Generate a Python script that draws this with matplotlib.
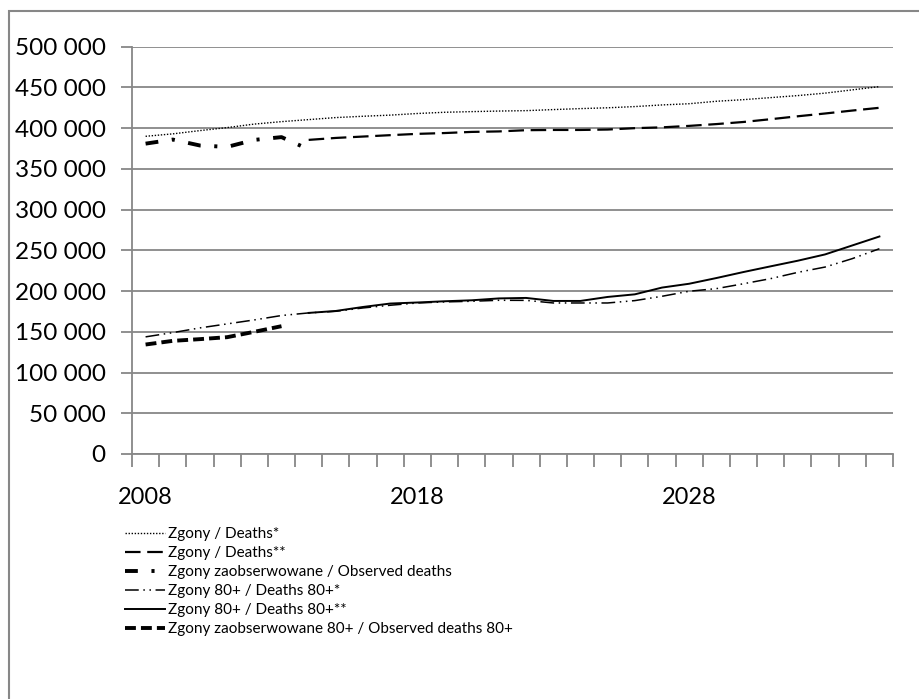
import matplotlib
matplotlib.use('Agg')  # no display
from matplotlib import pyplot as plt
from matplotlib.patches import Rectangle
from matplotlib.ticker import FuncFormatter, FixedLocator
from matplotlib.font_manager import FontProperties
import numpy as np

# Years on the category axis
years = list(range(2008, 2036))
year_labels = ['2008', '2018', '2028']

# Values in thousands (nan = no data)
nan = np.nan
deaths_a = [390, 393, 397, 400.7, 405, 408, 410.5, 413, 414.6, 416, 418, 419.5, 420.3, 421,
            421.5, 422.8, 424, 425, 426.5, 428.5, 430, 433, 435, 437.5, 440, 443, 447, 451]
deaths_b = [nan] * 6 + [385.6, 388, 389.7, 391.4, 393, 394, 395.4, 396, 397.5, 397.8, 397.8,
                        398.3, 400, 401, 402.8, 405, 407.6, 411, 414.6, 418, 421.6, 425]
deaths_obs = [381, 386, 378.7, 377, 385.6, 389, 374] + [nan] * 21
deaths80_a = [143.8, 149, 154.8, 159.7, 164.6, 170, 173.2, 175.2, 179.3, 182.6, 185.4, 186.7,
              187.5, 188.7, 188.6, 185.4, 185.4, 185.4, 188.3, 193.6, 199.8, 203, 209, 215.3,
              223, 229.5, 239.8, 252]
deaths80_b = [nan] * 6 + [173.2, 175.6, 180.5, 184.7, 186, 187.5, 188.7, 191, 191.6, 187.9, 187.9,
                          192.8, 196, 204.3, 209, 216, 223.4, 230.4, 237.3, 245, 256, 267]
deaths80_obs = [134.4, 138.9, 141, 143.4, 150, 156.9] + [nan] * 22

labels = ['Zgony / Deaths*',
          'Zgony / Deaths**',
          'Zgony zaobserwowane / Observed deaths',
          'Zgony 80+ / Deaths 80+*',
          'Zgony 80+ / Deaths 80+**',
          'Zgony zaobserwowane 80+ / Observed deaths 80+']

grey = '#878787'
tick_font = 'Lato'

fig = plt.figure(figsize=(9.19, 6.99), dpi=100)
ax = fig.add_axes([132 / 919, 1 - 454 / 699, (893 - 132) / 919, (454 - 46.7) / 699])

x = np.arange(len(years))
to_num = lambda v: np.array(v, dtype=float) * 1000

ax.plot(x, to_num(deaths_a), color='black', lw=1.0, dashes=(1.0, 1.2), label=labels[0])
ax.plot(x, to_num(deaths_b), color='black', lw=1.6, dashes=(7.0, 3.0), label=labels[1])
ax.plot(x, to_num(deaths_obs), color='black', lw=2.8, dashes=(3.3, 3.5, 0.8, 3.5),
        label=labels[2])
ax.plot(x, to_num(deaths80_a), color='black', lw=1.1, dashes=(9, 3, 1, 3, 1, 3), label=labels[3])
ax.plot(x, to_num(deaths80_b), color='black', lw=1.4, label=labels[4])
ax.plot(x, to_num(deaths80_obs), color='black', lw=2.8, dashes=(2.8, 1.3), label=labels[5])

# axes ranges and grid
ax.set_xlim(-0.5, len(years) - 0.5)
ax.set_ylim(0, 500000)
ax.set_yticks(np.arange(0, 500001, 50000))
ax.yaxis.set_major_formatter(FuncFormatter(lambda v, p: f'{int(v):,}'.replace(',', ' ')))
ax.grid(axis='y', color=grey, lw=1.3)
ax.set_axisbelow(True)

# category boundaries get tick marks, labels sit in the middle of a category
ax.xaxis.set_major_locator(FixedLocator(np.arange(-0.5, len(years), 1.0)))
ax.xaxis.set_minor_locator(FixedLocator([years.index(int(y)) for y in year_labels]))
ax.set_xticklabels([], minor=False)
ax.set_xticklabels(year_labels, minor=True)
ax.tick_params(axis='x', which='major', length=9, width=1.3, color=grey)
ax.tick_params(axis='x', which='minor', length=0, pad=24, labelsize=17)
ax.tick_params(axis='y', length=8, width=1.3, color=grey, pad=11, labelsize=17.5)
for lab in ax.get_xticklabels(minor=True) + ax.get_yticklabels():
    lab.set_fontfamily(tick_font)

for side in ['top', 'right']:
    ax.spines[side].set_visible(False)
for side in ['left', 'bottom']:
    ax.spines[side].set_color(grey)
    ax.spines[side].set_linewidth(1.3)

# legend below the plot
leg_font = FontProperties(family=['Liberation Sans Narrow', 'Lato'], size=11)
leg = ax.legend(loc='upper left', bbox_to_anchor=(125 / 919, 1 - 527 / 699),
                bbox_transform=fig.transFigure, frameon=False, prop=leg_font,
                handlelength=2.6, handletextpad=0.2, labelspacing=0.33, borderpad=0,
                borderaxespad=0)

# outer chart border
fig.patches.append(Rectangle((9 / 919, -0.1), 2, 1 - 11 / 699 + 0.1, transform=fig.transFigure,
                             fill=False, edgecolor=grey, lw=1.5))

fig.savefig('out.png', dpi=100, facecolor='white')
plt.close(fig)
